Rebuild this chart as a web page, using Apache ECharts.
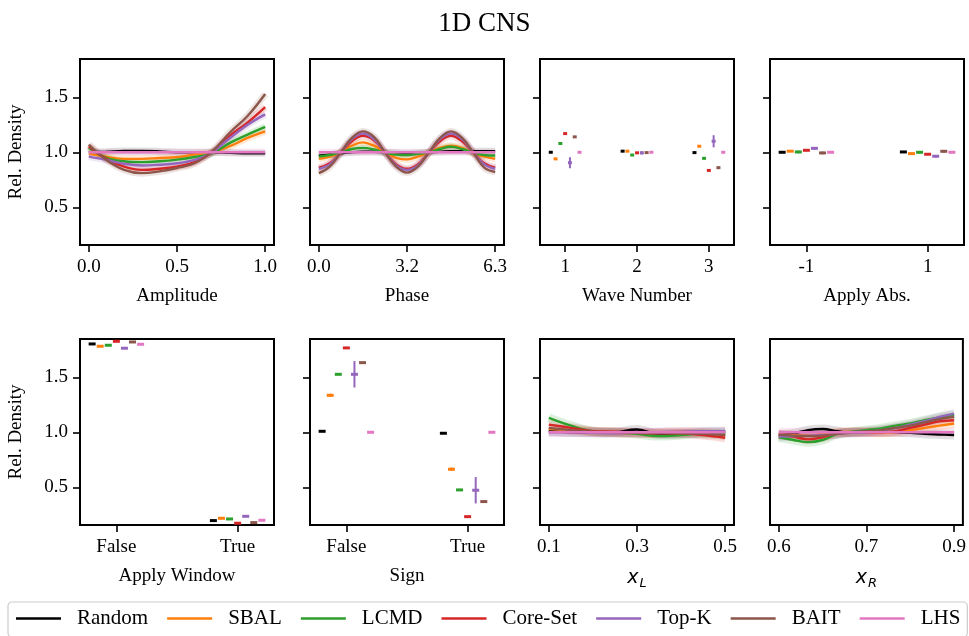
<!DOCTYPE html>
<html>
<head>
<meta charset="utf-8">
<script src="https://cdn.jsdelivr.net/npm/echarts@6/dist/echarts.min.js"></script>
<style>
  html, body { margin: 0; padding: 0; background: #fff; }
  #chart { width: 969px; height: 636px; }
</style>
</head>
<body>
<div id="chart"></div>
<script>
// methods, in plotting order
const methods = ['Random', 'SBAL', 'LCMD', 'Core-Set', 'Top-K', 'BAIT', 'LHS'];

// Amplitude (rows follow methods order)
const amplitudeX = [0, 0.1, 0.2, 0.3, 0.4, 0.5, 0.6, 0.7, 0.8, 0.9, 1.0];
const amplitudeVals = [
  [1.0, 1.005, 1.012, 1.012, 1.008, 1.0, 1.0, 1.0, 0.995, 0.99, 0.99],
  [0.988, 0.96, 0.94, 0.94, 0.948, 0.955, 0.98, 1.0, 1.055, 1.13, 1.19],
  [1.04, 0.95, 0.918, 0.91, 0.918, 0.933, 0.957, 0.99, 1.085, 1.16, 1.23],
  [1.055, 0.94, 0.87, 0.84, 0.85, 0.87, 0.91, 1.0, 1.15, 1.27, 1.41],
  [0.96, 0.93, 0.896, 0.88, 0.887, 0.90, 0.93, 1.0, 1.13, 1.25, 1.345],
  [1.07, 0.93, 0.84, 0.81, 0.826, 0.857, 0.90, 1.01, 1.18, 1.33, 1.53],
  [1.0, 1.0, 1.0, 1.0, 1.0, 1.0, 1.0, 1.0, 1.0, 1.0, 1.0]
];

// Phase
const phaseX = [0, 0.39, 0.79, 1.18, 1.57, 1.97, 2.36, 2.76, 3.15, 3.54, 3.94, 4.33, 4.72, 5.12, 5.51, 5.91, 6.3];
const phaseTicks = [0, 3.15, 6.3];
const phaseLabels = ['0.0', '3.2', '6.3'];
const phaseVals = [
  [0.97, 0.98, 0.99, 1.0, 1.005, 1.005, 1.0, 0.995, 0.99, 0.995, 1.0, 1.005, 1.01, 1.01, 1.01, 1.01, 1.01],
  [0.94, 0.96, 1.0, 1.06, 1.09, 1.06, 1.0, 0.95, 0.935, 0.96, 1.0, 1.04, 1.06, 1.04, 0.99, 0.96, 0.94],
  [0.96, 0.975, 1.0, 1.03, 1.04, 1.025, 0.995, 0.98, 0.975, 0.985, 1.0, 1.03, 1.05, 1.03, 0.995, 0.975, 0.97],
  [0.86, 0.90, 1.0, 1.10, 1.15, 1.11, 1.0, 0.89, 0.85, 0.89, 1.0, 1.10, 1.15, 1.10, 1.0, 0.90, 0.86],
  [0.85, 0.89, 1.0, 1.12, 1.17, 1.12, 1.0, 0.88, 0.84, 0.88, 1.0, 1.12, 1.17, 1.12, 1.0, 0.89, 0.85],
  [0.81, 0.87, 1.0, 1.13, 1.19, 1.14, 1.0, 0.87, 0.815, 0.87, 1.0, 1.13, 1.19, 1.13, 1.0, 0.86, 0.82],
  [1.0, 1.0, 1.0, 1.0, 1.0, 1.0, 1.0, 1.0, 1.0, 1.0, 1.0, 1.0, 1.0, 1.0, 1.0, 1.0, 1.0]
];

// Wave Number (value and error per category)
const waveTicks = [1, 2, 3];
const waveLabels = ['1', '2', '3'];
const waveVals = [
  [1.0, 1.01, 0.997],
  [0.94, 1.01, 1.055],
  [1.08, 0.975, 0.945],
  [1.17, 0.995, 0.835],
  [0.905, 0.995, 1.10],
  [1.14, 0.997, 0.86],
  [1.0, 1.0, 1.0]
];
const waveErr = [
  [0.004, 0.004, 0.004],
  [0.006, 0.004, 0.008],
  [0.008, 0.005, 0.008],
  [0.005, 0.004, 0.005],
  [0.05, 0.015, 0.055],
  [0.005, 0.005, 0.005],
  [0.002, 0.002, 0.002]
];

// Apply Abs.
const absTicks = [-1, 1];
const absLabels = ['-1', '1'];
const absVals = [
  [1.0, 1.003],
  [1.01, 0.988],
  [1.003, 1.0],
  [1.018, 0.982],
  [1.036, 0.964],
  [0.994, 1.009],
  [1.0, 1.0]
];
const absErr = [
  [0.003, 0.003],
  [0.006, 0.006],
  [0.012, 0.012],
  [0.006, 0.006],
  [0.012, 0.012],
  [0.012, 0.012],
  [0.002, 0.002]
];

// Apply Window
const windowTicks = [-1, 1];
const windowLabels = ['False', 'True'];
const windowVals = [
  [1.803, 0.197],
  [1.782, 0.218],
  [1.791, 0.212],
  [1.827, 0.173],
  [1.764, 0.236],
  [1.821, 0.179],
  [1.80, 0.20]
];
const windowErr = [
  [0.003, 0.003],
  [0.004, 0.004],
  [0.004, 0.004],
  [0.006, 0.006],
  [0.005, 0.005],
  [0.005, 0.005],
  [0.002, 0.002]
];

// Sign
const signTicks = [-1, 1];
const signLabels = ['False', 'True'];
const signVals = [
  [1.009, 0.991],
  [1.336, 0.664],
  [1.527, 0.476],
  [1.767, 0.233],
  [1.527, 0.473],
  [1.633, 0.37],
  [1.0, 1.0]
];
const signErr = [
  [0.003, 0.003],
  [0.015, 0.015],
  [0.004, 0.004],
  [0.004, 0.004],
  [0.12, 0.12],
  [0.004, 0.004],
  [0.002, 0.002]
];

// x_L
const xLX = [0.1, 0.15, 0.2, 0.25, 0.3, 0.35, 0.4, 0.45, 0.5];
const xLVals = [
  [1.01, 1.0, 0.995, 1.0, 1.025, 0.98, 0.985, 1.0, 1.005],
  [1.03, 1.02, 1.005, 0.995, 0.99, 0.995, 1.005, 1.0, 0.97],
  [1.13, 1.06, 1.01, 1.0, 0.985, 0.965, 0.975, 0.99, 0.99],
  [1.07, 1.04, 1.01, 1.005, 0.995, 0.99, 0.99, 0.975, 0.95],
  [1.0, 1.0, 0.995, 0.99, 0.995, 1.0, 1.005, 1.01, 1.01],
  [1.04, 1.02, 1.005, 1.0, 0.995, 0.99, 0.99, 0.985, 0.975],
  [1.0, 1.0, 1.0, 1.0, 1.0, 1.0, 1.0, 1.0, 1.0]
];

// x_R
const xRX = [0.6, 0.625, 0.65, 0.675, 0.7, 0.725, 0.75, 0.775, 0.8, 0.825, 0.85, 0.875, 0.9];
const xRVals = [
  [0.98, 0.99, 1.02, 1.03, 1.01, 0.995, 1.0, 1.0, 1.0, 0.995, 0.985, 0.98, 0.975],
  [0.98, 0.975, 0.97, 0.985, 1.0, 1.005, 1.0, 0.995, 1.0, 1.02, 1.04, 1.06, 1.08],
  [0.955, 0.93, 0.91, 0.93, 0.985, 1.005, 1.02, 1.035, 1.06, 1.08, 1.11, 1.135, 1.16],
  [0.975, 0.96, 0.935, 0.955, 0.99, 1.0, 1.0, 1.0, 1.01, 1.04, 1.07, 1.10, 1.11],
  [0.96, 0.965, 0.97, 0.975, 0.985, 0.995, 1.0, 1.02, 1.04, 1.07, 1.10, 1.14, 1.17],
  [0.98, 0.97, 0.965, 0.97, 0.985, 1.0, 1.01, 1.02, 1.04, 1.06, 1.09, 1.12, 1.14],
  [1.0, 1.0, 1.0, 1.0, 1.0, 1.0, 1.0, 1.0, 1.0, 1.0, 1.0, 1.0, 1.0]
];

const yTicks = [0.5, 1.0, 1.5];

// styling
const colors = ['#000000', '#ff7f0e', '#2ca02c', '#d62728', '#9467bd', '#8c564b', '#e377c2'];
const serif = "'Liberation Serif', 'Times New Roman', serif";
const mathRich = {
  i: { fontFamily: 'DejaVu Sans', fontStyle: 'italic', fontSize: 19, color: '#000' },
  s: { fontFamily: 'DejaVu Sans', fontStyle: 'italic', fontSize: 13, color: '#000', padding: [10, 0, 0, 1] }
};

const panels = [
  { kind: 'line', name: 'Amplitude', x: amplitudeX, vals: amplitudeVals, min: -0.05, max: 1.05,
    ticks: [0, 0.5, 1], labels: ['0.0', '0.5', '1.0'], band: 7 },
  { kind: 'line', name: 'Phase', x: phaseX, vals: phaseVals, min: -0.315, max: 6.615,
    ticks: phaseTicks, labels: phaseLabels, band: 7 },
  { kind: 'point', name: 'Wave Number', x: waveTicks, vals: waveVals, err: waveErr, min: 0.65, max: 3.35,
    step: 0.0667, ticks: waveTicks, labels: waveLabels, w: 4 },
  { kind: 'point', name: 'Apply Abs.', x: absTicks, vals: absVals, err: absErr, min: -1.6, max: 1.6,
    step: 0.1333, ticks: absTicks, labels: absLabels, w: 7 },
  { kind: 'point', name: 'Apply Window', x: windowTicks, vals: windowVals, err: windowErr, min: -1.6, max: 1.6,
    step: 0.1333, ticks: windowTicks, labels: windowLabels, w: 7 },
  { kind: 'point', name: 'Sign', x: signTicks, vals: signVals, err: signErr, min: -1.6, max: 1.6,
    step: 0.1333, ticks: signTicks, labels: signLabels, w: 7 },
  { kind: 'line', name: '{i|x}{s|L}', rich: true, x: xLX, vals: xLVals, min: 0.08, max: 0.52,
    ticks: [0.1, 0.3, 0.5], labels: ['0.1', '0.3', '0.5'], band: 9 },
  { kind: 'line', name: '{i|x}{s|R}', rich: true, x: xRX, vals: xRVals, min: 0.585, max: 0.915,
    ticks: [0.6, 0.75, 0.9], labels: ['0.6', '0.7', '0.9'], band: 9 }
];

const gridLeft = [80, 310, 540, 770];
const gridTop = [59, 339];

const grids = [], xAxes = [], yAxes = [], series = [];

panels.forEach((p, k) => {
  const col = k % 4, row = Math.floor(k / 4);
  grids.push({
    left: gridLeft[col], top: gridTop[row], width: 194, height: 186,
    show: true, borderColor: '#000', borderWidth: 2, backgroundColor: 'transparent'
  });

  xAxes.push({
    gridIndex: k, type: 'value', min: p.min, max: p.max, position: 'bottom',
    axisLine: { show: false, onZero: false }, splitLine: { show: false },
    axisTick: { show: true, length: 7, customValues: p.ticks, lineStyle: { color: '#000', width: 1.6 } },
    axisLabel: {
      customValues: p.ticks, margin: 13, color: '#000', fontFamily: serif, fontSize: 19,
      formatter: v => p.labels[p.ticks.findIndex(t => Math.abs(t - v) < 1e-9)]
    },
    name: p.name, nameLocation: 'middle', nameGap: 42,
    nameTextStyle: p.rich
      ? { rich: mathRich }
      : { fontFamily: serif, fontSize: 19, color: '#000' }
  });

  yAxes.push({
    gridIndex: k, type: 'value', min: 0.157, max: 1.848, position: 'left',
    axisLine: { show: false, onZero: false }, splitLine: { show: false },
    axisTick: { show: true, length: 7, customValues: yTicks, lineStyle: { color: '#000', width: 1.6 } },
    axisLabel: {
      show: col === 0, customValues: yTicks, margin: 12, color: '#000', fontFamily: serif, fontSize: 19,
      formatter: v => v.toFixed(1)
    },
    name: col === 0 ? 'Rel. Density' : '', nameLocation: 'middle', nameGap: 54,
    nameTextStyle: { fontFamily: serif, fontSize: 19, color: '#000' }
  });

  if (p.kind === 'line') {
    // faint wide copy under each line, like the confidence band
    methods.forEach((m, i) => {
      series.push({
        type: 'line', name: m + ' band', xAxisIndex: k, yAxisIndex: k, z: 1, silent: true,
        data: p.x.map((x, j) => [x, p.vals[i][j]]),
        smooth: 0.4, symbol: 'none',
        lineStyle: { width: p.band, color: colors[i], opacity: i === 0 ? 0.12 : 0.16 }
      });
    });
    methods.forEach((m, i) => {
      series.push({
        type: 'line', name: m, xAxisIndex: k, yAxisIndex: k, z: 2,
        data: p.x.map((x, j) => [x, p.vals[i][j]]),
        smooth: 0.4, symbol: 'none',
        itemStyle: { color: colors[i] },
        lineStyle: { width: 2.4, color: colors[i] }
      });
    });
  } else {
    methods.forEach((m, i) => {
      const off = (i - 3) * p.step;
      const color = colors[i];
      series.push({
        type: 'custom', name: m, xAxisIndex: k, yAxisIndex: k, z: 2,
        itemStyle: { color },
        data: p.x.map((x, j) => [x + off, p.vals[i][j], p.err[i][j]]),
        encode: { x: 0, y: 1 },
        renderItem: (params, api) => {
          const c = api.coord([api.value(0), api.value(1)]);
          const lo = api.coord([api.value(0), api.value(1) - api.value(2)]);
          const hi = api.coord([api.value(0), api.value(1) + api.value(2)]);
          return {
            type: 'group',
            children: [
              { type: 'line', shape: { x1: c[0], y1: lo[1], x2: c[0], y2: hi[1] },
                style: { stroke: color, lineWidth: 2 } },
              { type: 'rect', shape: { x: c[0] - p.w / 2, y: c[1] - 1.5, width: p.w, height: 3 },
                style: { fill: color } }
            ]
          };
        }
      });
    });
  }
});

const chart = echarts.init(document.getElementById('chart'));
chart.setOption({
  animation: false,
  backgroundColor: '#fff',
  title: {
    text: '1D CNS', left: 'center', top: 5,
    textStyle: { fontFamily: serif, fontSize: 27, fontWeight: 'normal', color: '#000' }
  },
  legend: {
    data: methods.map(name => ({ name, icon: 'rect' })),
    left: 8, top: 602,
    itemWidth: 45, itemHeight: 2.5, itemGap: 19,
    padding: [6, 7, 8, 8],
    borderColor: '#cccccc', borderWidth: 1.2, borderRadius: 4,
    textStyle: { fontFamily: serif, fontSize: 21, color: '#000', padding: [0, 0, 0, 11] }
  },
  grid: grids,
  xAxis: xAxes,
  yAxis: yAxes,
  series
});
</script>
</body>
</html>
